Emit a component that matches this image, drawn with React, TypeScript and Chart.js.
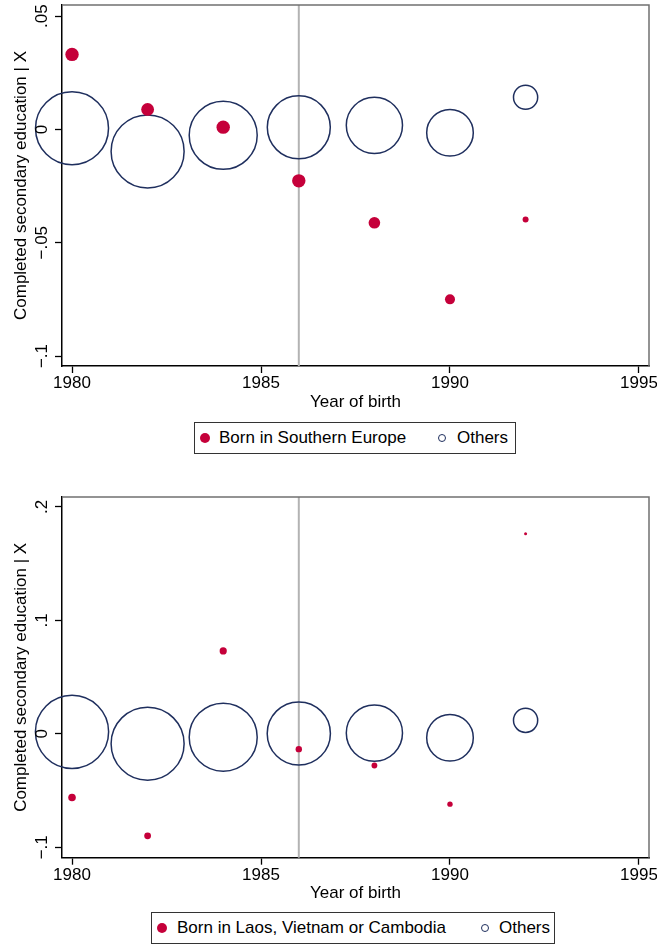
import React, { useEffect, useRef } from "react";
import { Chart, registerables } from "chart.js";

Chart.register(...registerables);

// ---------- data ----------
const years = [1980, 1982, 1984, 1986, 1988, 1990, 1992];

// Panel 1: Born in Southern Europe
const seRedValues = [0.0331, 0.0088, 0.001, -0.0227, -0.0412, -0.075, -0.0397];
const seRedSize = [6.7, 6.4, 6.7, 6.7, 5.8, 5.0, 3.0];
const seOthersValues = [0.0005, -0.0097, -0.0026, 0.0009, 0.0018, -0.0015, 0.0142];
const seOthersSize = [36.5, 36.5, 34.0, 31.5, 28.1, 23.3, 12.1];

// Panel 2: Born in Laos, Vietnam or Cambodia
const lvcRedValues = [-0.0561, -0.0899, 0.0731, -0.0135, -0.0279, -0.062, 0.1765];
const lvcRedSize = [3.8, 3.4, 3.6, 3.2, 2.9, 2.7, 1.5];
const lvcOthersValues = [0.0018, -0.0087, -0.0029, 0.0003, 0.0007, -0.0034, 0.0119];
const lvcOthersSize = [36.6, 36.5, 34.0, 31.6, 28.1, 23.3, 12.1];

const xTicks = [1980, 1985, 1990, 1995];
const topYTicks = [0.05, 0, -0.05, -0.1];
const topYTickLabels = [".05", "0", "\u2212.05", "\u2212.1"];
const bottomYTicks = [0.2, 0.1, 0, -0.1];
const bottomYTickLabels = [".2", ".1", "0", "\u2212.1"];
const refYear = 1986;

const xMin = 1979.735;
const xMax = 1995.265;
const topYMin = -0.1044;
const topYMax = 0.0549;
const bottomYMin = -0.1092;
const bottomYMax = 0.2088;

const xTitle = "Year of birth";
const yTitle = "Completed secondary education | X";
const topRedLabel = "Born in Southern Europe";
const bottomRedLabel = "Born in Laos, Vietnam or Cambodia";
const othersLabel = "Others";

// ---------- styles ----------
const RED = "#C5003A";
const NAVY = "#1F2F5E";
const FONT_FAMILY = '"Liberation Sans", Arial, Helvetica, sans-serif';
const FONT_SIZE = 17;

type PanelProps = {
  height: number;
  padTop: number;
  padBottom: number;
  xAxisHeight: number;
  yMin: number;
  yMax: number;
  yTicks: number[];
  yTickLabels: string[];
  red: number[];
  redSize: number[];
  others: number[];
  othersSize: number[];
  redLabel: string;
  legend: { left: number; top: number; width: number; height: number; redX: number; redTextX: number; othX: number; othTextX: number };
};

function Panel(p: PanelProps) {
  const ref = useRef<HTMLCanvasElement>(null);
  useEffect(() => {
    const framePlugin = {
      id: "frameAndLabels",
      beforeDatasetsDraw(chart: any) {
        const { ctx, chartArea: a, scales } = chart;
        const x = scales.x.getPixelForValue(refYear);
        ctx.save();
        ctx.strokeStyle = "#b3b3b3";
        ctx.lineWidth = 2;
        ctx.beginPath();
        ctx.moveTo(x, a.top);
        ctx.lineTo(x, a.bottom);
        ctx.stroke();
        ctx.strokeStyle = "#707070";
        ctx.lineWidth = 1.5;
        ctx.beginPath();
        ctx.moveTo(a.left, a.top);
        ctx.lineTo(a.right, a.top);
        ctx.lineTo(a.right, a.bottom);
        ctx.stroke();
        ctx.restore();
      },
      afterDraw(chart: any) {
        const { ctx, scales } = chart;
        ctx.save();
        ctx.font = `${FONT_SIZE}px ${FONT_FAMILY}`;
        ctx.fillStyle = "#000";
        ctx.textAlign = "center";
        ctx.textBaseline = "alphabetic";
        p.yTicks.forEach((v, i) => {
          const y = scales.y.getPixelForValue(v);
          ctx.save();
          ctx.translate(47, y);
          ctx.rotate(-Math.PI / 2);
          ctx.fillText(p.yTickLabels[i], 0, 0);
          ctx.restore();
        });
        ctx.restore();
      },
    };

    const font = { family: FONT_FAMILY, size: FONT_SIZE };
    const chart = new Chart(ref.current as HTMLCanvasElement, {
      type: "bubble",
      data: {
        datasets: [
          {
            label: p.redLabel,
            data: years.map((x, i) => ({ x, y: p.red[i], r: p.redSize[i] })),
            backgroundColor: RED,
            borderWidth: 0,
            clip: false,
          } as any,
          {
            label: othersLabel,
            data: years.map((x, i) => ({ x, y: p.others[i], r: p.othersSize[i] })),
            backgroundColor: "rgba(0,0,0,0)",
            borderColor: NAVY,
            borderWidth: 1.5,
            clip: false,
          } as any,
        ],
      },
      options: {
        responsive: false,
        animation: false,
        events: [],
        layout: { autoPadding: false, padding: { left: 0, right: 8, top: p.padTop, bottom: p.padBottom } },
        plugins: { legend: { display: false }, tooltip: { enabled: false } },
        scales: {
          x: {
            type: "linear",
            min: xMin,
            max: xMax,
            afterBuildTicks: (s: any) => {
              s.ticks = xTicks.map((v) => ({ value: v }));
            },
            afterFit: (s: any) => {
              s.height = p.xAxisHeight;
              s.paddingLeft = 0;
              s.paddingRight = 0;
            },
            ticks: {
              color: "#000",
              font,
              padding: 0,
              maxRotation: 0,
              autoSkip: false,
              callback: (v: any) => String(v),
            },
            grid: { drawOnChartArea: false, drawTicks: true, tickLength: 7, tickColor: "#000", tickWidth: 1.3 },
            border: { display: true, color: "#000", width: 1.5 },
            title: { display: true, text: xTitle, color: "#000", font, padding: 0 },
          },
          y: {
            type: "linear",
            min: p.yMin,
            max: p.yMax,
            afterBuildTicks: (s: any) => {
              s.ticks = p.yTicks.map((v) => ({ value: v }));
            },
            afterFit: (s: any) => {
              s.width = 62;
              s.paddingTop = 0;
              s.paddingBottom = 0;
            },
            ticks: { display: false },
            grid: { drawOnChartArea: false, drawTicks: true, tickLength: 7, tickColor: "#000", tickWidth: 1.3 },
            border: { display: true, color: "#000", width: 1.5 },
            title: { display: true, text: yTitle, color: "#000", font, padding: { top: 11, bottom: 0 } },
          },
        },
      } as any,
      plugins: [framePlugin],
    });
    return () => chart.destroy();
  }, []);

  const lg = p.legend;
  const textStyle: React.CSSProperties = {
    position: "absolute",
    top: 0,
    height: "100%",
    display: "flex",
    alignItems: "center",
    fontFamily: FONT_FAMILY,
    fontSize: FONT_SIZE,
    color: "#000",
    whiteSpace: "nowrap",
  };
  return (
    <div style={{ position: "relative", width: 657, height: p.height }}>
      <canvas ref={ref} width={657} height={p.height} style={{ display: "block" }} />
      <div
        style={{
          position: "absolute",
          left: lg.left,
          top: lg.top,
          width: lg.width,
          height: lg.height,
          border: "1.5px solid #333",
          boxSizing: "border-box",
          background: "#fff",
        }}
      >
        <span
          style={{
            position: "absolute",
            left: lg.redX - 5,
            top: "50%",
            marginTop: -5,
            width: 10,
            height: 10,
            borderRadius: "50%",
            background: RED,
          }}
        />
        <span style={{ ...textStyle, left: lg.redTextX }}>{p.redLabel}</span>
        <span
          style={{
            position: "absolute",
            left: lg.othX - 4,
            top: "50%",
            marginTop: -4,
            width: 8,
            height: 8,
            borderRadius: "50%",
            border: `1.5px solid ${NAVY}`,
            boxSizing: "border-box",
          }}
        />
        <span style={{ ...textStyle, left: lg.othTextX }}>{othersLabel}</span>
      </div>
    </div>
  );
}

export default function App() {
  useEffect(() => {
    document.body.style.margin = "0";
  }, []);
  return (
    <div style={{ width: 657, height: 945, background: "#fff" }}>
      <Panel
        height={472}
        padTop={5}
        padBottom={59}
        xAxisHeight={47}
        yMin={topYMin}
        yMax={topYMax}
        yTicks={topYTicks}
        yTickLabels={topYTickLabels}
        red={seRedValues}
        redSize={seRedSize}
        others={seOthersValues}
        othersSize={seOthersSize}
        redLabel={topRedLabel}
        legend={{ left: 194, top: 422, width: 322, height: 32, redX: 10, redTextX: 24, othX: 247, othTextX: 262 }}
      />
      <Panel
        height={473}
        padTop={25}
        padBottom={41.5}
        xAxisHeight={45.8}
        yMin={bottomYMin}
        yMax={bottomYMax}
        yTicks={bottomYTicks}
        yTickLabels={bottomYTickLabels}
        red={lvcRedValues}
        redSize={lvcRedSize}
        others={lvcOthersValues}
        othersSize={lvcOthersSize}
        redLabel={bottomRedLabel}
        legend={{ left: 151, top: 440, width: 404, height: 32, redX: 10, redTextX: 25, othX: 333, othTextX: 347 }}
      />
    </div>
  );
}
